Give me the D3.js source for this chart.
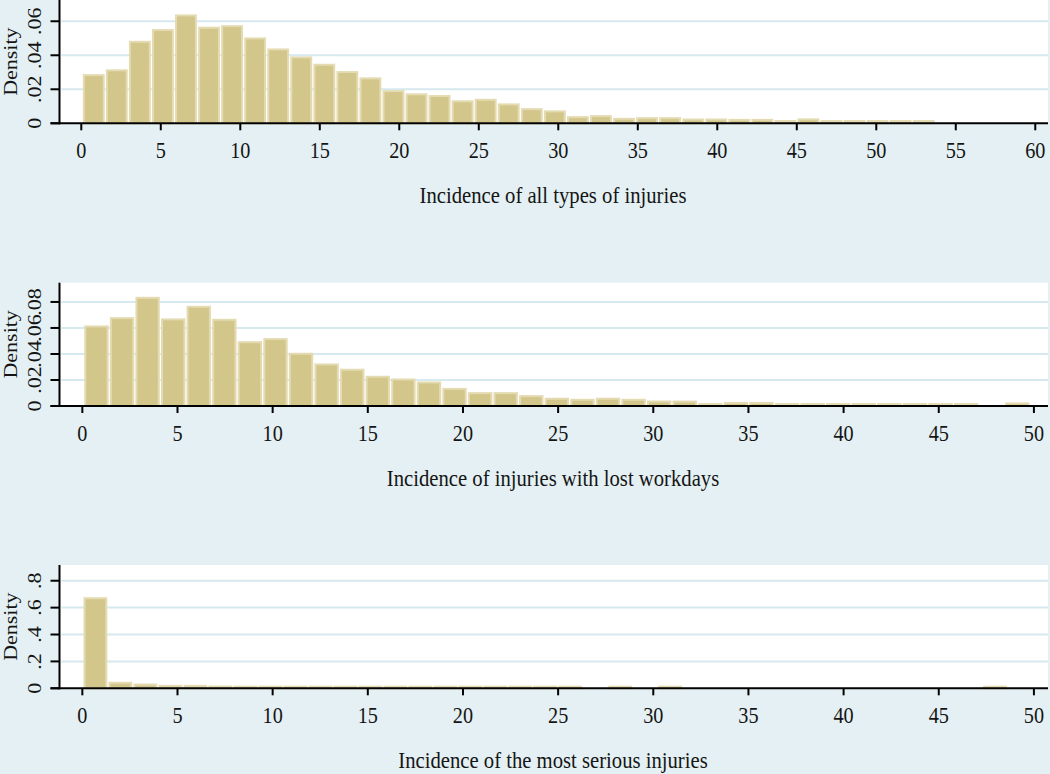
<!DOCTYPE html>
<html>
<head>
<meta charset="utf-8">
<script src="https://cdn.jsdelivr.net/npm/d3@7"></script>
<style>
	html, body { margin: 0; padding: 0; background: #e4f0f3; }
	svg { display: block; }
	text { font-family: "Liberation Serif", "DejaVu Serif", serif; fill: #151515; }
</style>
</head>
<body>
<svg id="chart" width="1050" height="774"></svg>
<script>
/*
  Three stacked Stata-style density histograms of injury incidence.
  Heights (density units).
*/

// ---------------------------------------------------------------
// Data
// ---------------------------------------------------------------
const allTypesDensity = [
	0.0288, 0.0316, 0.0484, 0.0553, 0.0639, 0.0567, 0.0576, 0.0504, 0.0439, 0.0392,
	0.0349, 0.0306, 0.0269, 0.0194, 0.0175, 0.0165, 0.0134, 0.0143, 0.0116, 0.0088,
	0.0075, 0.0041, 0.0047, 0.0031, 0.0035, 0.0035, 0.0027, 0.0027, 0.0025, 0.0025,
	0.0018, 0.0028, 0.0018, 0.0018, 0.0018, 0.0018, 0.0018
]
const allTypesBinStart = 0.06
const allTypesBinWidth = 1.45

const lostDaysDensity = [
	0.0618, 0.0682, 0.0838, 0.0672, 0.0769, 0.0669, 0.0497, 0.0521, 0.0408, 0.0326,
	0.0285, 0.0231, 0.0210, 0.0187, 0.0138, 0.0105, 0.0105, 0.0082, 0.0062, 0.0054,
	0.0062, 0.0054, 0.0041, 0.0040, 0.0021, 0.0030, 0.0030, 0.0021, 0.0021, 0.0021,
	0.0021, 0.0021, 0.0021, 0.0021, 0.0021, 0, 0.0026
]
const lostDaysBinStart = 0.07
const lostDaysBinWidth = 1.344

const seriousDensity = [
	0.676, 0.047, 0.034, 0.024, 0.024, 0.019, 0.018, 0.018, 0.018, 0.018,
	0.018, 0.018, 0.018, 0.018, 0.018, 0.018, 0.018, 0.018, 0.018, 0.018,
	0, 0.018, 0, 0.018, 0, 0, 0, 0, 0, 0,
	0, 0, 0, 0, 0, 0, 0.018
]
const seriousBinStart = 0.03
const seriousBinWidth = 1.313

const allTypesXTicks = [0, 5, 10, 15, 20, 25, 30, 35, 40, 45, 50, 55, 60]
const lostDaysXTicks = [0, 5, 10, 15, 20, 25, 30, 35, 40, 45, 50]
const seriousXTicks = [0, 5, 10, 15, 20, 25, 30, 35, 40, 45, 50]

const allTypesYTicks = [0, 0.02, 0.04, 0.06]
const lostDaysYTicks = [0, 0.02, 0.04, 0.06, 0.08]
const seriousYTicks = [0, 0.2, 0.4, 0.6, 0.8]

const allTypesYLabels = ['0', '.02', '.04', '.06']
const lostDaysYLabels = ['0', '.02', '.04', '.06', '.08']
const seriousYLabels = ['0', '.2', '.4', '.6', '.8']

const titles = [
	'Incidence of all types of injuries',
	'Incidence of injuries with lost workdays',
	'Incidence of the most serious injuries'
]

// ---------------------------------------------------------------
// Panel layout
// ---------------------------------------------------------------
const BG = '#e4f0f3', GRID = '#d6e9ef'
const BAR_FILL = '#d3c68b', BAR_EDGE = '#e4dbb2'
const PLOT_LEFT = 59.5, PLOT_RIGHT = 1048, PLOT_H = 123.3
const SQUASH = 0.88   // reference text is a bit narrow

const panels = [
	{ top: 0, density: allTypesDensity, start: allTypesBinStart, width: allTypesBinWidth,
	  xDomain: [-1.37, 60.8], yMax: 0.0725, xTicks: allTypesXTicks,
	  yTicks: allTypesYTicks, yLabels: allTypesYLabels, title: titles[0] },
	{ top: 282.7, density: lostDaysDensity, start: lostDaysBinStart, width: lostDaysBinWidth,
	  xDomain: [-1.2, 50.74], yMax: 0.0948, xTicks: lostDaysXTicks,
	  yTicks: lostDaysYTicks, yLabels: lostDaysYLabels, title: titles[1] },
	{ top: 565, density: seriousDensity, start: seriousBinStart, width: seriousBinWidth,
	  xDomain: [-1.2, 50.74], yMax: 0.917, xTicks: seriousXTicks,
	  yTicks: seriousYTicks, yLabels: seriousYLabels, title: titles[2] }
]

const svg = d3.select('#chart')
svg.append('rect').attr('width', 1050).attr('height', 774).attr('fill', BG)

function drawPanel(p) {
	const g = svg.append('g')
	const bottom = p.top + PLOT_H

	const x = d3.scaleLinear().domain(p.xDomain).range([PLOT_LEFT, PLOT_RIGHT])
	const y = d3.scaleLinear().domain([0, p.yMax]).range([bottom, p.top])

	// plot region
	g.append('rect')
		.attr('x', PLOT_LEFT).attr('y', p.top)
		.attr('width', PLOT_RIGHT - PLOT_LEFT).attr('height', PLOT_H)
		.attr('fill', '#fff')

	// horizontal gridlines
	g.selectAll('.grid').data(p.yTicks.filter(v => v > 0)).join('line')
		.attr('x1', PLOT_LEFT + 2).attr('x2', PLOT_RIGHT)
		.attr('y1', d => y(d)).attr('y2', d => y(d))
		.attr('stroke', GRID).attr('stroke-width', 2)

	// histogram bars
	g.selectAll('.bar').data(p.density.map((d, i) => ({ i, d })).filter(b => b.d > 0)).join('rect')
		.attr('x', b => x(p.start + b.i * p.width) + 1.6)
		.attr('width', b => x(p.start + (b.i + 1) * p.width) - x(p.start + b.i * p.width) - 3.2)
		.attr('y', b => y(b.d) + 0.8)
		.attr('height', b => Math.max(0.5, bottom - y(b.d) - 0.8))
		.attr('fill', BAR_FILL)
		.attr('stroke', BAR_EDGE).attr('stroke-width', 2)

	// x axis
	const xAxis = g.append('g').attr('transform', `translate(0,${bottom})`)
	xAxis.append('line')
		.attr('x1', PLOT_LEFT - 9).attr('x2', PLOT_RIGHT)
		.attr('stroke', '#000').attr('stroke-width', 2)
	xAxis.selectAll('.xt').data(p.xTicks).join('line')
		.attr('x1', d => x(d)).attr('x2', d => x(d))
		.attr('y1', 0).attr('y2', 7)
		.attr('stroke', '#000').attr('stroke-width', 2)
	xAxis.selectAll('.xl').data(p.xTicks).join('text')
		.attr('transform', d => `translate(${x(d)},35) scale(${SQUASH},1)`)
		.attr('text-anchor', 'middle')
		.style('font-size', '23px')
		.text(d => d)

	// y axis
	g.append('line')
		.attr('x1', PLOT_LEFT).attr('x2', PLOT_LEFT)
		.attr('y1', p.top).attr('y2', bottom + 1)
		.attr('stroke', '#000').attr('stroke-width', 2)
	g.selectAll('.yt').data(p.yTicks).join('line')
		.attr('x1', PLOT_LEFT - 9).attr('x2', PLOT_LEFT)
		.attr('y1', d => y(d)).attr('y2', d => y(d))
		.attr('stroke', '#000').attr('stroke-width', 2)
	g.selectAll('.yl').data(p.yTicks).join('text')
		.attr('transform', d => `translate(41,${y(d)}) scale(${SQUASH},1) rotate(-90)`)
		.attr('text-anchor', 'middle')
		.style('font-size', '22px')
		.text((d, i) => p.yLabels[i])

	g.append('text')
		.attr('transform', `translate(16.5,${p.top + PLOT_H / 2}) scale(${SQUASH},1) rotate(-90)`)
		.attr('text-anchor', 'middle')
		.style('font-size', '22px')
		.text('Density')

	// axis title
	g.append('text')
		.attr('transform', `translate(553,${bottom + 80}) scale(${SQUASH},1)`)
		.attr('text-anchor', 'middle')
		.style('font-size', '23.5px')
		.text(p.title)
}

panels.forEach(drawPanel)
</script>
</body>
</html>
